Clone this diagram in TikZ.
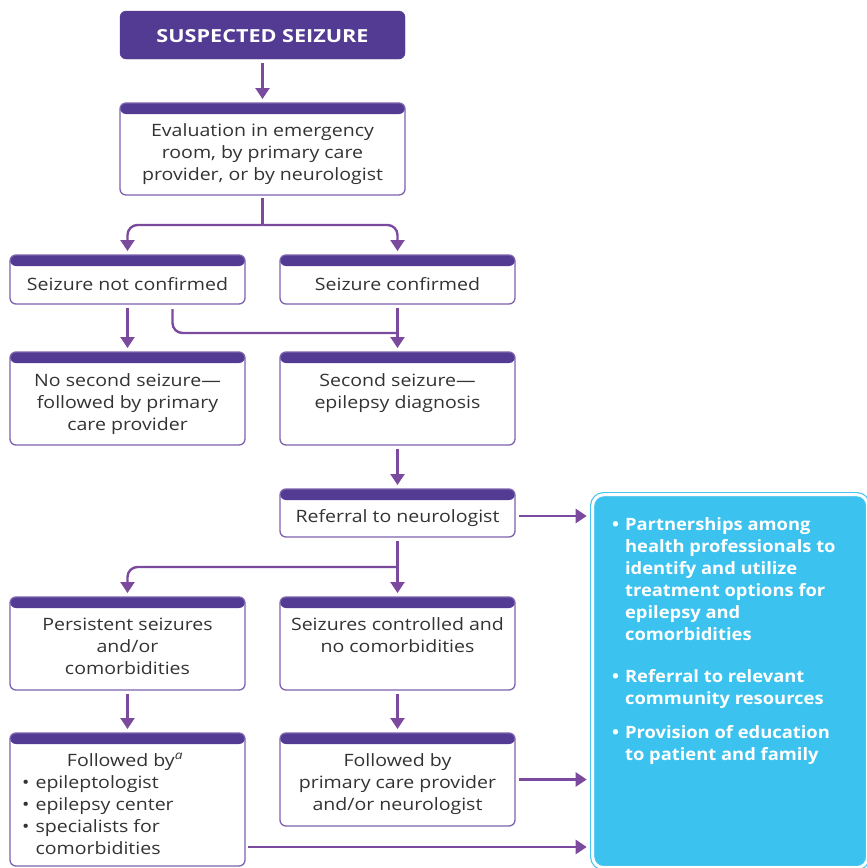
\documentclass[tikz,border=0pt]{standalone}
\usepackage{fontspec}
\setmainfont{Open Sans}[FakeStretch=1.15]
\newfontfamily\bluefont{Open Sans}[FakeStretch=1.08]
\newfontfamily\susfont{Open Sans}[FakeStretch=1.2]
\usetikzlibrary{arrows.meta}
\definecolor{hdr}{HTML}{533B93}
\definecolor{bord}{HTML}{7E62AE}
\definecolor{arr}{HTML}{7B4A9E}
\definecolor{txt}{HTML}{333333}
\definecolor{cyanfill}{HTML}{3BC2EE}
\definecolor{cyanline}{HTML}{49C4EE}
\newcommand\ctab[1]{\begin{tabular}[t]{@{}c@{}}#1\end{tabular}}
\newcommand\btab[1]{\begin{tabular}[t]{@{}l@{\hspace{6pt}}l@{}}#1\end{tabular}}
\begin{document}
\begin{tikzpicture}[x=1pt,y=-1pt,
  pbox/.style={draw=bord, line width=1.3pt, fill=white, rounded corners=6pt,
    minimum width=235pt, inner sep=0pt, outer sep=0pt, anchor=north west,
    path picture={\fill[hdr] ([yshift=2pt]path picture bounding box.north west)
      rectangle ([yshift=-11pt]path picture bounding box.north east);}},
  txtn/.style={text=txt, font=\fontsize{17}{22}\selectfont, inner sep=0pt, anchor=base},
  conn/.style={draw=arr, line width=2.4pt, -{Triangle[width=14pt,length=11pt]},
    shorten <=4pt, shorten >=4pt},
  plain/.style={draw=arr, line width=2.4pt},
]
\useasboundingbox (0,0) rectangle (867,868);
\clip (0,0) rectangle (867,868);

% boxes
\node[draw=hdr, fill=hdr, rounded corners=6pt, minimum width=285pt, minimum height=48pt,
  inner sep=0pt, outer sep=0pt, anchor=north west] (sus) at (120,11) {};
\node[text=white, font=\susfont\fontsize{18}{22}\selectfont\bfseries, inner sep=0pt, anchor=base] (susT)
  at (262.5,42.5) {SUSPECTED SEIZURE};

\node[pbox, minimum width=285pt, minimum height=92pt] (eval) at (120,103) {};
\node[txtn] (evalT) at (262.5,136) {\ctab{Evaluation in emergency\\room, by primary care\\provider, or by neurologist}};

\node[pbox, minimum height=49pt] (snc) at (10,255) {};
\node[txtn] (sncT) at (127.5,290) {Seizure not confirmed};
\node[pbox, minimum height=49pt] (sc) at (280,255) {};
\node[txtn] (scT) at (397.5,290) {Seizure confirmed};

\node[pbox, minimum height=93pt] (nss) at (10,352) {};
\node[txtn] (nssT) at (127.5,386) {\ctab{No second seizure---\\followed by primary\\care provider}};
\node[pbox, minimum height=93pt] (ssd) at (280,352) {};
\node[txtn] (ssdT) at (397.5,386) {\ctab{Second seizure---\\epilepsy diagnosis}};

\node[pbox, minimum height=48pt] (ref) at (280,489) {};
\node[txtn] (refT) at (397.5,522) {Referral to neurologist};

\node[pbox, minimum height=93pt] (pers) at (10,597) {};
\node[txtn] (persT) at (127.5,630) {\ctab{Persistent seizures\\and/or\\comorbidities}};
\node[pbox, minimum height=93pt] (ctrl) at (280,597) {};
\node[txtn] (ctrlT) at (397.5,630) {\ctab{Seizures controlled and\\no comorbidities}};

\node[pbox, minimum height=133pt] (fa) at (10,733) {};
\node[txtn] (faT) at (125,766) {Followed by\textsuperscript{\itshape a}};
\node[txtn, anchor=base west] (faL) at (22,788) {\btab{\textbullet & epileptologist\\ \textbullet & epilepsy center\\ \textbullet & specialists for\\ & comorbidities}};
\node[pbox, minimum height=93pt] (fp) at (280,733) {};
\node[txtn] (fpT) at (397.5,766) {\ctab{Followed by\\primary care provider\\and/or neurologist}};

% blue box
\node[draw=cyanline, line width=1.2pt, double=white, double distance=3pt, fill=cyanfill,
  rounded corners=11pt, minimum width=275pt, minimum height=373pt, inner sep=0pt,
  outer sep=0pt, anchor=north west] (blue) at (592.7,494.7) {};
\begin{scope}[every node/.style={text=white, font=\bluefont\fontsize{17}{22}\selectfont\bfseries,
  inner sep=0pt, anchor=base west}]
\node (b1) at (612,530) {\btab{\textbullet & Partnerships among\\ & health professionals to\\ & identify and utilize\\ & treatment options for\\ & epilepsy and\\ & comorbidities}};
\node (b2) at (612,682) {\btab{\textbullet & Referral to relevant\\ & community resources}};
\node (b3) at (612,738) {\btab{\textbullet & Provision of education\\ & to patient and family}};
\end{scope}

% connectors
\draw[conn] (sus.south) -- (eval.north);
\coordinate (j1) at (262.5,225);
\draw[plain, shorten <=3pt] (eval.south) -- (j1);
\draw[conn, rounded corners=10pt, shorten <=0pt] (j1) -| (snc.north);
\draw[conn, rounded corners=10pt, shorten <=0pt] (j1) -| (sc.north);

\draw[conn] (snc.south) -- (nss.north);
\draw[conn] (sc.south) -- (ssd.north);
\coordinate (j2) at (397.5,333);
\draw[plain, rounded corners=10pt, shorten <=5pt] ([xshift=45pt]snc.south) |- (j2);

\draw[conn] (ssd.south) -- (ref.north);
\draw[conn, shorten >=6pt] ([yshift=-3pt]ref.east) -- ([yshift=-3pt]ref.east -| blue.west);

\draw[conn] (ref.south) -- (ctrl.north);
\coordinate (j3) at (397.5,567);
\draw[conn, rounded corners=10pt, shorten <=0pt] (j3) -| (pers.north);

\draw[conn] (pers.south) -- (fa.north);
\draw[conn] (ctrl.south) -- (fp.north);
\draw[conn, shorten >=6pt] (fp.east) -- (fp.east -| blue.west);
\draw[conn, shorten >=6pt, shorten <=3pt] ([yshift=-114pt]fa.north east) -- ([yshift=-114pt]fa.north east -| blue.west);
\end{tikzpicture}
\end{document}
